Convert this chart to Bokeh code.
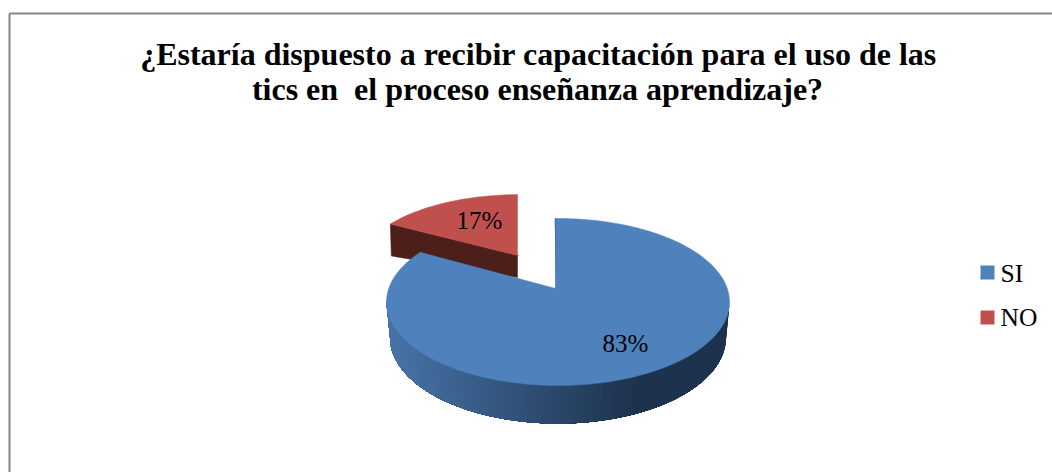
from math import radians, sin, cos, sqrt
from bokeh.plotting import figure
from bokeh.models import Range1d
from bokeh.core.properties import value
from bokeh.embed import file_html
from bokeh.resources import INLINE

categories = ["SI", "NO"]
shares = [83, 17]
labels = ["83%", "17%"]
title_lines = ["¿Estaría dispuesto a recibir capacitación para el uso de las",
               "tics en\u00a0 el proceso enseñanza aprendizaje?"]

FONT = value("Liberation Serif")
BLUE, RED = "#4f81bd", "#c0504d"
W, H = 1052, 472
p = figure(width=W, height=H, output_backend="svg", toolbar_location=None,
           x_range=Range1d(0, W), y_range=Range1d(H, 0),
           min_border=0, outline_line_color=None, background_fill_color="white",
           border_fill_color="white")
p.axis.visible = False
p.grid.visible = False

# perspective disc: top face, bottom face, apex on the top face
TX, TY, RX, RY = 557.5, 301.5, 171.5, 83.5
BX, BY, BRX, BRY = 557.5, 337, 168, 86
AX, AY = 555, 288


def rim(deg, ax=AX, ay=AY, cx=TX, cy=TY, rx=RX, ry=RY):
    """Where a ray from the apex at deg (clockwise from top) meets the ellipse."""
    t = radians(deg)
    dx, dy = sin(t), -cos(t)
    ox, oy = (ax - cx) / rx, (ay - cy) / ry
    b = ox * dx + oy * dy
    c = ox * ox + oy * oy - 1
    s = -b + sqrt(b * b - c)
    return cx + rx * (ox + s * dx), cy + ry * (oy + s * dy)


def mix(a, b, f):
    return "#%02x%02x%02x" % tuple(round(x + (y - x) * f) for x, y in zip(a, b))


si_end = shares[0] / sum(shares) * 360

# exploded NO slice: the same disc, further away (scaled) and shifted
SX, SY, NAX, NAY = 0.94, 0.87, 517, 255
steps = 40
no_angles = [si_end + (360 - si_end) * i / steps for i in range(steps + 1)]
no_rim = []
for d in no_angles:
    x, y = rim(d)
    no_rim.append((NAX + (x - AX) * SX, NAY + (y - AY) * SY))
lx, ly = no_rim[0]
p.patch([lx, lx + 1, NAX, NAX, NAX + 1, lx], [ly, ly + 32, NAY + 22, NAY, NAY, ly],
        fill_color="#4c1f1b", line_color="#4c1f1b", line_width=0.5)
p.patch([NAX] + [q[0] for q in no_rim], [NAY] + [q[1] for q in no_rim],
        fill_color=RED, line_color=RED, line_width=0.5)

# side wall of the SI slice, shaded left to right; bands overlap to avoid seams
n = 120
xs_list, ys_list, cols = [], [], []
for i in range(n):
    a0 = 90 + 180 * i / n
    a1 = 270
    arc = [a0 + (a1 - a0) * k / 60 for k in range(61)]
    quad_x, quad_y = [], []
    for a in arc:
        r = radians(a)
        quad_x.append(TX + RX * sin(r))
        quad_y.append(TY - RY * cos(r))
    for a in reversed(arc):
        r = radians(a)
        quad_x.append(BX + BRX * sin(r))
        quad_y.append(BY - BRY * cos(r))
    xm = TX + RX * sin(radians(a0))
    f = min(1.0, max(0.0, (xm - 388) / 250))
    xs_list.append(quad_x)
    ys_list.append(quad_y)
    cols.append(mix((0x48, 0x74, 0xa9), (0x1d, 0x32, 0x4d), f))
p.patches(xs_list, ys_list, fill_color=cols, line_color=None)

# inner cut wall at the top of the SI slice
sx, sy = rim(0)
p.line([sx, AX + 1], [sy, AY], line_color="#1d324d", line_width=1.5)

si_angles = [si_end * i / 240 for i in range(241)]
si_rim = [rim(d) for d in si_angles]
p.patch([AX] + [q[0] for q in si_rim], [AY] + [q[1] for q in si_rim],
        fill_color=BLUE, line_color=BLUE, line_width=0.5)

# frame
p.line([9, 9], [472, 13], line_color="#868686", line_width=2)
p.line([9, 1052], [13, 13], line_color="#868686", line_width=2)

# texts
p.text([538], [53], text=[title_lines[0]], text_font=FONT, text_font_style="bold",
       text_font_size="32px", text_align="center", text_baseline="middle", text_color="black")
p.text([537], [88.5], text=[title_lines[1]], text_font=FONT, text_font_style="bold",
       text_font_size="32px", text_align="center", text_baseline="middle", text_color="black")
p.text([625, 479], [343, 220], text=labels, text_font=FONT, text_font_size="25px",
       text_align="center", text_baseline="middle", text_color="black")

# legend
p.rect([987, 987], [272, 317], width=14, height=14, fill_color=[BLUE, RED], line_color=None)
p.text([1000, 1000], [272.5, 317], text=categories, text_font=FONT, text_font_size="25.5px",
       text_align="left", text_baseline="middle", text_color="black")

open("out.html", "w").write(file_html(p, INLINE))
